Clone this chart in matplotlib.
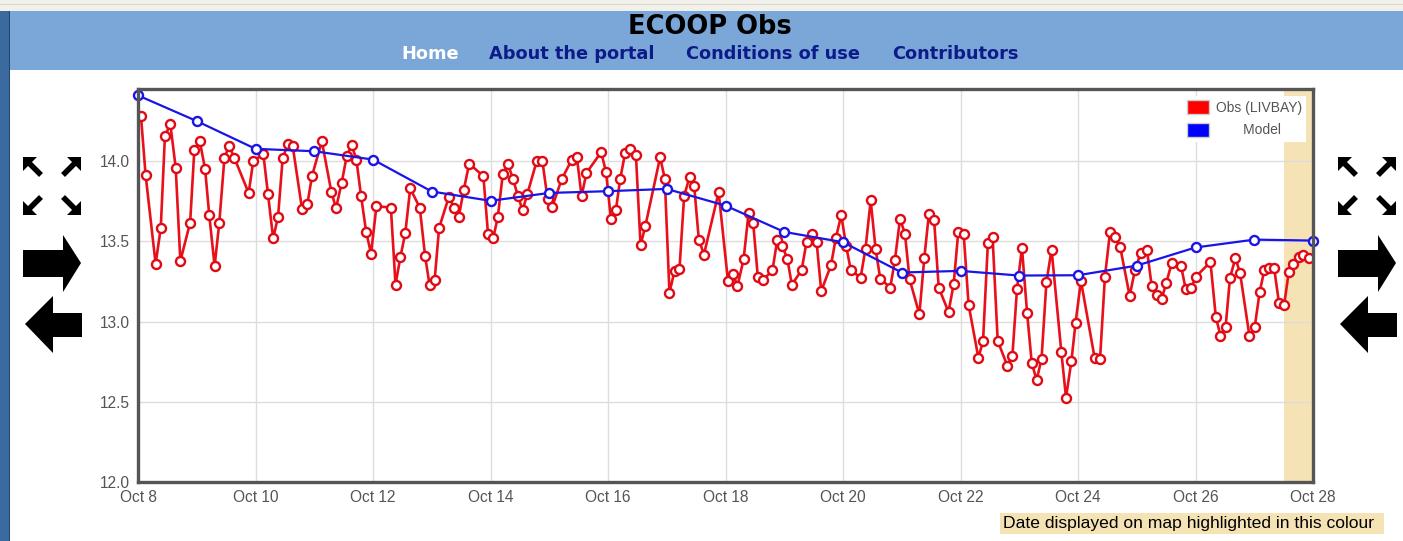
import matplotlib
matplotlib.use("Agg")
import matplotlib.pyplot as plt
from matplotlib.patches import Polygon, Rectangle, Patch
from matplotlib.lines import Line2D
import numpy as np

# ---------------- data ----------------
# hours since Oct 8 00:00
obs_hours = [
    1.2, 3.1, 7.2, 9.3, 11.0, 13.2, 15.4, 17.3, 21.3, 23.0,
    25.2, 27.4, 29.1, 31.3, 33.2, 35.3, 37.2, 39.4, 45.2, 47.1,
    51.2, 53.1, 55.2, 57.2, 59.1, 61.3, 63.2, 67.0, 69.2, 71.1,
    75.1, 79.0, 80.9,
    83.2, 85.3, 87.3, 89.2, 91.1, 93.2, 95.2, 97.4, 103.3, 105.2,
    107.2, 109.2, 111.2, 115.1, 117.3, 119.1, 121.2, 123.0, 127.0, 129.1,
    131.0, 133.1, 135.3, 141.1, 143.0, 145.1, 147.0, 149.0, 151.1, 153.1,
    155.2, 157.1, 159.1, 162.9,
    165.2, 167.3, 169.2, 173.1, 177.1, 179.3, 181.2, 183.2, 189.2, 191.2,
    193.2, 195.2, 197.0, 199.0, 201.1, 203.4, 205.3, 207.3, 213.3, 215.2,
    217.1, 219.2, 221.2, 223.1, 225.3, 227.2, 229.1, 231.2, 237.2, 241.0,
    243.0, 244.9,
    247.4, 249.4, 251.3, 253.2, 255.3, 259.2, 261.1, 263.2, 265.3, 267.1,
    271.1, 273.1, 275.2, 277.2, 279.1, 283.1, 285.1, 287.3, 289.3, 291.2,
    295.2, 297.2, 299.3, 301.3, 303.2, 307.3, 309.2, 311.3, 313.3, 315.2,
    319.2, 321.2, 323.1, 325.2, 327.1,
    331.1, 333.2, 335.1, 337.3, 339.3, 343.3, 345.2, 347.2, 349.1, 351.2,
    355.1, 357.2, 359.1, 361.1, 363.2, 365.1, 367.1, 369.1, 371.1, 373.2,
    377.2, 379.1, 381.3, 383.0, 385.2, 390.8, 393.0, 395.0, 397.1, 399.1,
    401.2, 405.1, 407.3, 409.7,
    412.2, 414.1, 416.3, 418.2, 420.1, 422.3, 426.1, 428.0, 430.2, 432.1,
    438.1, 440.3, 442.2, 444.3, 446.1, 448.3, 450.2, 454.0, 456.2, 458.2,
    460.1, 462.0, 464.1, 466.1, 468.2, 470.1, 472.0, 474.1, 476.0, 478.3,
]
obs_values = [
    14.283, 13.915, 13.360, 13.584, 14.156, 14.231, 13.960, 13.378, 13.617, 14.067,
    14.127, 13.952, 13.665, 13.347, 13.615, 14.019, 14.096, 14.019, 13.802, 14.002,
    14.044, 13.794, 13.520, 13.651, 14.019, 14.110, 14.094, 13.703, 13.734, 13.909,
    14.125, 13.807, 13.707,
    13.865, 14.035, 14.100, 14.010, 13.786, 13.559, 13.424, 13.719, 13.711, 13.231,
    13.403, 13.553, 13.830, 13.711, 13.407, 13.229, 13.262, 13.584, 13.778, 13.711,
    13.651, 13.823, 13.985, 13.906, 13.543, 13.520, 13.653, 13.917, 13.985, 13.892,
    13.784, 13.694, 13.798, 14.002,
    14.000, 13.767, 13.715, 13.888, 14.006, 14.023, 13.782, 13.927, 14.056, 13.933,
    13.638, 13.694, 13.890, 14.052, 14.077, 14.040, 13.476, 13.599, 14.025, 13.890,
    13.181, 13.316, 13.328, 13.782, 13.902, 13.846, 13.511, 13.418, 13.807, 13.254,
    13.299, 13.222,
    13.389, 13.674, 13.617, 13.279, 13.258, 13.320, 13.507, 13.472, 13.389, 13.229,
    13.322, 13.495, 13.547, 13.499, 13.191, 13.351, 13.524, 13.663, 13.470, 13.320,
    13.274, 13.455, 13.755, 13.455, 13.268, 13.212, 13.383, 13.640, 13.549, 13.264,
    13.046, 13.395, 13.672, 13.636, 13.212,
    13.060, 13.233, 13.561, 13.545, 13.106, 12.775, 12.877, 13.493, 13.528, 12.879,
    12.726, 12.788, 13.206, 13.459, 13.056, 12.742, 12.636, 12.767, 13.245, 13.449,
    12.809, 12.526, 12.753, 12.992, 13.254, 12.773, 12.767, 13.279, 13.561, 13.528,
    13.468, 13.160, 13.324, 13.430,
    13.445, 13.222, 13.164, 13.141, 13.243, 13.366, 13.347, 13.202, 13.208, 13.279,
    13.372, 13.029, 12.913, 12.967, 13.274, 13.395, 13.304, 12.913, 12.967, 13.183,
    13.320, 13.337, 13.337, 13.116, 13.104, 13.308, 13.362, 13.403, 13.414, 13.397,
]
model_hours = [0, 24, 48, 72, 96, 120, 144, 168, 192, 216, 240,
               264, 288, 312, 336, 360, 384, 408, 432, 456, 480]
model_values = [14.41, 14.25, 14.077, 14.062, 14.01, 13.811, 13.753, 13.802,
                13.813, 13.827, 13.723, 13.559, 13.495, 13.306, 13.316, 13.287,
                13.289, 13.349, 13.462, 13.511, 13.505]

x_tick_hours = [0, 48, 96, 144, 192, 240, 288, 336, 384, 432, 480]
x_tick_labels = ["Oct 8", "Oct 10", "Oct 12", "Oct 14", "Oct 16", "Oct 18",
                 "Oct 20", "Oct 22", "Oct 24", "Oct 26", "Oct 28"]
y_ticks = [12.0, 12.5, 13.0, 13.5, 14.0]
y_tick_labels = ["12.0", "12.5", "13.0", "13.5", "14.0"]
highlight_span = (468, 480)
legend_labels = ["Obs (LIVBAY)", "Model"]
title_text = "ECOOP Obs"
nav_items = ["Home", "About the portal", "Conditions of use", "Contributors"]
footnote = "Date displayed on map highlighted in this colour"

# ---------------- figure ----------------
W, H = 1403, 541
fig = plt.figure(figsize=(W / 100, H / 100), dpi=100)
fig.patch.set_facecolor("white")


def fx(x):
    return x / W


def fy(y):
    return 1 - y / H


def fpoly(pts, **kw):
    p = Polygon([(fx(a), fy(b)) for a, b in pts], closed=True,
                transform=fig.transFigure, **kw)
    fig.patches.append(p)


def frect(x0, y0, x1, y1, **kw):
    r = Rectangle((fx(x0), fy(y1)), fx(x1) - fx(x0), fy(y0) - fy(y1),
                  transform=fig.transFigure, **kw)
    fig.patches.append(r)


# browser strip / header / left border
frect(0, 0, W, 11, facecolor="#f1f0ea", edgecolor="none")
frect(0, 4, W, 5, facecolor="#dcd8c8", edgecolor="none")
frect(0, 11, W, 70, facecolor="#7ba7d8", edgecolor="none")
frect(0, 11, 10, H, facecolor="#3a6a9e", edgecolor="none")
frect(9, 11, 10, H, facecolor="#1f4472", edgecolor="none")

fig.text(fx(710), fy(26.5), title_text, ha="center", va="center",
         fontsize=18.5, fontweight="bold", color="black", family="DejaVu Sans")
nav_x = [430, 572, 773, 955]
nav_colors = ["white", "#0d1a8a", "#0d1a8a", "#0d1a8a"]
for t, xx, cc in zip(nav_items, nav_x, nav_colors):
    fig.text(fx(xx), fy(54), t, ha="center", va="center", fontsize=12.8,
             fontweight="bold", color=cc, family="DejaVu Sans")

# ---------------- axes ----------------
ax = fig.add_axes([fx(138), fy(482), fx(1313) - fx(138), fy(89) - fy(482)])
ax.set_facecolor("white")
ax.axvspan(*highlight_span, color="#f5e3b5", zorder=0, lw=0)

ax.plot(obs_hours, obs_values, color="#e8101a", lw=1.9, marker="o",
        markersize=6.5, markerfacecolor="white", markeredgecolor="#e00a14",
        markeredgewidth=1.7, zorder=3)
ax.plot(model_hours, model_values, color="#1a14e6", lw=1.6, marker="o",
        markersize=6.5, markerfacecolor="white", markeredgecolor="#1a14e6",
        markeredgewidth=1.7, zorder=4, clip_on=False)

ax.set_xlim(0, 480)
ax.set_ylim(12.0, 14.45)
ax.set_xticks(x_tick_hours)
ax.set_xticklabels(x_tick_labels)
ax.set_yticks(y_ticks)
ax.set_yticklabels(y_tick_labels)
ax.tick_params(length=0, labelsize=11.2, labelcolor="#555555", pad=6,
               labelfontfamily="Liberation Sans")
ax.grid(True, color="#dddddd", lw=1)
ax.set_axisbelow(True)
for s in ax.spines.values():
    s.set_color("#555555")
    s.set_linewidth(2.4)
    s.set_zorder(5)

handles = [Patch(facecolor="#ff0000", edgecolor="#cccccc"),
           Patch(facecolor="#0000ff", edgecolor="#cccccc")]
leg = ax.legend(handles, [legend_labels[0], "       " + legend_labels[1]],
                loc="upper right",
                bbox_to_anchor=((1306 - 138) / (1313 - 138), 1 - (96 - 89) / (482 - 89)),
                fontsize=10, frameon=True, fancybox=False, borderpad=0.3,
                handlelength=1.6, handleheight=1.2, handletextpad=0.45,
                labelspacing=0.55, borderaxespad=0)
leg.get_frame().set_facecolor("white")
leg.get_frame().set_edgecolor("none")
leg.get_frame().set_alpha(1)
for t in leg.get_texts():
    t.set_color("#555555")
    t.set_family("Liberation Sans")

# footnote
frect(1000, 513, 1384, 534, facecolor="#f5e3b5", edgecolor="none")
fig.text(fx(1003), fy(523.5), footnote, ha="left", va="center",
         fontsize=12.6, color="black", family="Liberation Sans")


# ---------------- navigation icons ----------------
def icons(dx):
    # expand icon: four outward-pointing corner arrows
    for (cx, cy, sx, sy) in [(23, 157, 1, 1), (81, 157, -1, 1),
                             (23, 215, 1, -1), (81, 215, -1, -1)]:
        fpoly([(cx + dx, cy), (cx + dx + sx * 14, cy), (cx + dx, cy + sy * 14)],
              facecolor="black", edgecolor="none")
        fig.lines.append(Line2D([fx(cx + dx + sx * 5), fx(cx + dx + sx * 18)],
                                [fy(cy + sy * 5), fy(cy + sy * 18)],
                                transform=fig.transFigure, color="black",
                                lw=4.0, solid_capstyle="butt"))
    # right arrow
    fpoly([(23 + dx, 250), (63 + dx, 250), (63 + dx, 235), (81 + dx, 263),
           (63 + dx, 292), (63 + dx, 277), (23 + dx, 277)],
          facecolor="black", edgecolor="none")
    # left arrow
    fpoly([(82 + dx, 313), (53 + dx, 313), (53 + dx, 296), (25 + dx, 324),
           (53 + dx, 353), (53 + dx, 337), (82 + dx, 337)],
          facecolor="black", edgecolor="none")


icons(0)
icons(1315)

fig.savefig("out.png", dpi=100)
